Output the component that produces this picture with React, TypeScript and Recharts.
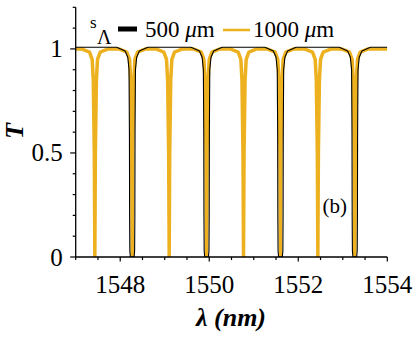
import React from "react";
import { LineChart, Line, XAxis, YAxis } from "recharts";

const YELLOW = "#EDB120";
const FONT = '"Liberation Serif", "DejaVu Serif", "Times New Roman", Times, serif';

// axis ticks
const xTicks = [1547, 1547.5, 1548, 1548.5, 1549, 1549.5, 1550, 1550.5, 1551, 1551.5, 1552, 1552.5, 1553, 1553.5, 1554];
const xLabels = [1548, 1550, 1552, 1554];
const yTicks = [0, 0.1, 0.2, 0.3, 0.4, 0.5, 0.6, 0.7, 0.8, 0.9, 1, 1.1, 1.2];
const yLabels = [0, 0.5, 1];

// 1000 um spectrum (yellow), wavelength in nm
const yellowLambda = [
  1547.0,
  1547.13, 1547.31, 1547.37, 1547.395, 1547.418, 1547.43, 1547.442, 1547.465, 1547.49, 1547.55, 1547.73,
  1547.97, 1548.15, 1548.21, 1548.235, 1548.258, 1548.27, 1548.282, 1548.305, 1548.33, 1548.39, 1548.57,
  1548.8, 1548.98, 1549.04, 1549.065, 1549.088, 1549.1, 1549.112, 1549.135, 1549.16, 1549.22, 1549.4,
  1549.64, 1549.82, 1549.88, 1549.905, 1549.928, 1549.94, 1549.952, 1549.975, 1550.0, 1550.06, 1550.24,
  1550.47, 1550.65, 1550.71, 1550.735, 1550.758, 1550.77, 1550.782, 1550.805, 1550.83, 1550.89, 1551.07,
  1551.3, 1551.48, 1551.54, 1551.565, 1551.588, 1551.6, 1551.612, 1551.635, 1551.66, 1551.72, 1551.9,
  1552.14, 1552.32, 1552.38, 1552.405, 1552.428, 1552.44, 1552.452, 1552.475, 1552.5, 1552.56, 1552.74,
  1552.97, 1553.15, 1553.21, 1553.235, 1553.258, 1553.27, 1553.282, 1553.305, 1553.33, 1553.39, 1553.57,
  1554.0,
];
const yellowT = [
  1,
  1, 0.985, 0.95, 0.85, 0.5, 0, 0.5, 0.85, 0.95, 0.985, 1,
  1, 0.985, 0.95, 0.85, 0.5, 0, 0.5, 0.85, 0.95, 0.985, 1,
  1, 0.985, 0.95, 0.85, 0.5, 0, 0.5, 0.85, 0.95, 0.985, 1,
  1, 0.985, 0.95, 0.85, 0.5, 0, 0.5, 0.85, 0.95, 0.985, 1,
  1, 0.985, 0.95, 0.85, 0.5, 0, 0.5, 0.85, 0.95, 0.985, 1,
  1, 0.985, 0.95, 0.85, 0.5, 0, 0.5, 0.85, 0.95, 0.985, 1,
  1, 0.985, 0.95, 0.85, 0.5, 0, 0.5, 0.85, 0.95, 0.985, 1,
  1, 0.985, 0.95, 0.85, 0.5, 0, 0.5, 0.85, 0.95, 0.985, 1,
  1,
];

// 500 um spectrum (black)
const blackLambda = [
  1547.0,
  1547.92, 1548.11, 1548.17, 1548.198, 1548.207, 1548.211, 1548.216, 1548.228, 1548.312, 1548.324, 1548.329, 1548.333, 1548.342, 1548.37, 1548.43, 1548.62,
  1549.59, 1549.78, 1549.84, 1549.868, 1549.877, 1549.881, 1549.886, 1549.898, 1549.982, 1549.994, 1549.999, 1550.003, 1550.012, 1550.04, 1550.1, 1550.29,
  1551.25, 1551.44, 1551.5, 1551.528, 1551.537, 1551.541, 1551.546, 1551.558, 1551.642, 1551.654, 1551.659, 1551.663, 1551.672, 1551.7, 1551.76, 1551.95,
  1552.92, 1553.11, 1553.17, 1553.198, 1553.207, 1553.211, 1553.216, 1553.228, 1553.312, 1553.324, 1553.329, 1553.333, 1553.342, 1553.37, 1553.43, 1553.62,
  1554.0,
];
const blackT = [
  1.008,
  1.008, 0.99, 0.96, 0.9, 0.6, 0.2, 0.03, 0, 0, 0.03, 0.2, 0.6, 0.9, 0.96, 0.99, 1.008,
  1.008, 0.99, 0.96, 0.9, 0.6, 0.2, 0.03, 0, 0, 0.03, 0.2, 0.6, 0.9, 0.96, 0.99, 1.008,
  1.008, 0.99, 0.96, 0.9, 0.6, 0.2, 0.03, 0, 0, 0.03, 0.2, 0.6, 0.9, 0.96, 0.99, 1.008,
  1.008, 0.99, 0.96, 0.9, 0.6, 0.2, 0.03, 0, 0, 0.03, 0.2, 0.6, 0.9, 0.96, 0.99, 1.008,
  1.008,
];

const yellowData = yellowLambda.map((x, i) => ({ x, y: yellowT[i] }));
const blackData = blackLambda.map((x, i) => ({ x, y: blackT[i] }));

const txt = { fontFamily: FONT, fill: "#000" };

function BottomTick({ x, y, payload }: any) {
  const lab = xLabels.includes(payload.value);
  return (
    <g>
      <line x1={x} y1={y} x2={x} y2={y + (lab ? 4.5 : 3)} stroke="#000" strokeWidth={1.2} />
      {lab && (
        <text x={x} y={y + 36} textAnchor="middle" fontSize={25} style={txt}>
          {payload.value}
        </text>
      )}
    </g>
  );
}

function TopTick({ x, y, payload }: any) {
  const lab = xLabels.includes(payload.value);
  return <line x1={x} y1={y} x2={x} y2={y - (lab ? 4.5 : 3)} stroke="#000" strokeWidth={1.2} />;
}

function LeftTick({ x, y, payload }: any) {
  const lab = yLabels.includes(payload.value);
  return (
    <g>
      <line x1={x} y1={y} x2={x - (lab ? 5.5 : 3)} y2={y} stroke="#000" strokeWidth={1.2} />
      {lab && (
        <text x={x - 13} y={y} dy="0.34em" textAnchor="end" fontSize={25} style={txt}>
          {payload.value}
        </text>
      )}
    </g>
  );
}

function RightTick({ x, y, payload }: any) {
  const lab = yLabels.includes(payload.value);
  return <line x1={x} y1={y} x2={x + (lab ? 5.5 : 3)} y2={y} stroke="#000" strokeWidth={1.2} />;
}

export default function App() {
  const axisLine = { stroke: "#000", strokeWidth: 1.3 };
  return (
    <div style={{ position: "absolute", left: 0, top: 0, width: 415, height: 338, background: "#fff", fontFamily: FONT }}>
      <LineChart width={415} height={338} margin={{ top: 7.3, right: 27.7, bottom: 51, left: 0 }}>
        <XAxis
          dataKey="x"
          type="number"
          domain={[1547, 1554]}
          allowDataOverflow
          ticks={xTicks}
          interval={0}
          height={30}
          tickSize={0}
          tickMargin={0}
          tickLine={false}
          axisLine={axisLine}
          tick={<BottomTick />}
        />
        <XAxis
          xAxisId="top"
          orientation="top"
          dataKey="x"
          type="number"
          domain={[1547, 1554]}
          allowDataOverflow
          ticks={xTicks}
          interval={0}
          height={0}
          tickSize={0}
          tickMargin={0}
          tickLine={false}
          axisLine={axisLine}
          tick={<TopTick />}
        />
        <YAxis
          type="number"
          domain={[0, 1.2]}
          allowDataOverflow
          ticks={yTicks}
          interval={0}
          width={75.7}
          tickSize={0}
          tickMargin={0}
          tickLine={false}
          axisLine={axisLine}
          tick={<LeftTick />}
        />
        <YAxis
          yAxisId="right"
          orientation="right"
          type="number"
          domain={[0, 1.2]}
          allowDataOverflow
          ticks={yTicks}
          interval={0}
          width={0}
          tickSize={0}
          tickMargin={0}
          tickLine={false}
          axisLine={axisLine}
          tick={<RightTick />}
        />
        <Line
          data={yellowData}
          dataKey="y"
          type="linear"
          stroke={YELLOW}
          strokeWidth={3.5}
          strokeLinejoin="round"
          dot={false}
          isAnimationActive={false}
        />
        <Line
          data={blackData}
          dataKey="y"
          type="linear"
          stroke="#000"
          strokeWidth={1.1}
          strokeLinejoin="round"
          dot={false}
          isAnimationActive={false}
        />
      </LineChart>
      <svg
        width={415}
        height={338}
        style={{ position: "absolute", left: 0, top: 0, pointerEvents: "none", fontFamily: FONT }}
      >
        {/* legend */}
        <text x={90} y={28} fontSize={17} style={txt}>s</text>
        <text x={97} y={44} fontSize={20} style={txt}>Λ</text>
        <rect x={118} y={26.5} width={19} height={5} fill="#000" />
        <text x={145} y={37} fontSize={23} style={txt}>
          500 <tspan fontStyle="italic">μ</tspan>m
        </text>
        <line x1={223} y1={30} x2={250} y2={30} stroke={YELLOW} strokeWidth={2.5} />
        <text x={253} y={37} fontSize={23} style={txt}>
          1000 <tspan fontStyle="italic">μ</tspan>m
        </text>
        <text x={322.5} y={213} fontSize={21} style={txt}>(b)</text>
        {/* axis titles */}
        <text
          transform="translate(23,131) rotate(-90)"
          textAnchor="middle"
          fontSize={26}
          fontWeight="bold"
          fontStyle="italic"
          style={txt}
        >
          T
        </text>
        <text x={231} y={326} textAnchor="middle" fontSize={26} fontWeight="bold" fontStyle="italic" style={txt}>
          λ (nm)
        </text>
      </svg>
    </div>
  );
}
